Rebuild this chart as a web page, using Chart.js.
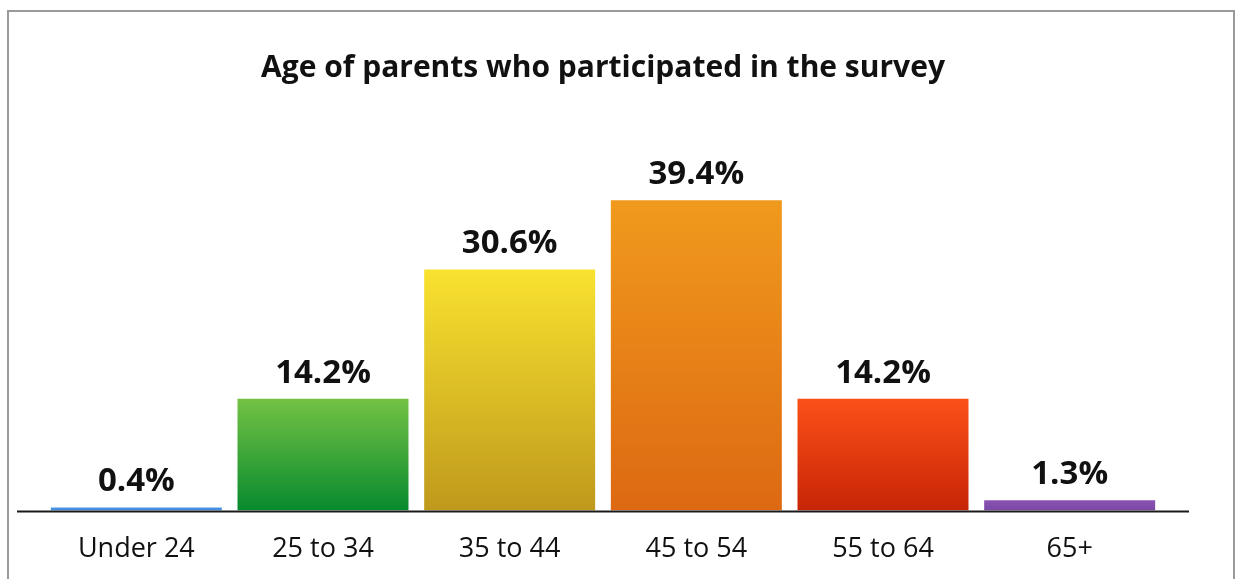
<!DOCTYPE html>
<html>
<head>
<meta charset="utf-8">
<script src="https://cdn.jsdelivr.net/npm/chart.js@4.4.0/dist/chart.umd.min.js"></script>
<style>
  body { margin: 0; background: #fff; overflow: hidden; }
  #wrap { position: absolute; left: 0; top: 0; width: 1235px; height: 589px; }
</style>
</head>
<body>
<div id="wrap"><canvas id="chart1" width="1235" height="589"></canvas></div>
<script>
'use strict'

var titleText = 'Age of parents who participated in the survey';
var ages = ['Under 24', '25 to 34', '35 to 44', '45 to 54', '55 to 64', '65+'];
var percents = [0.4, 14.2, 30.6, 39.4, 14.2, 1.3];
var labels = ['0.4%', '14.2%', '30.6%', '39.4%', '14.2%', '1.3%'];
var topColors = ['#4b97e8', '#74c244', '#f9e22f', '#f09a1d', '#fb5018', '#8b52b2'];
var bottomColors = ['#3a86dc', '#078a2e', '#bf991c', '#dd6912', '#c72506', '#7a48a6'];

var FONT = '"Open Sans", sans-serif';

///////////////////////////////////////////////////////////////////

function barColor(ctx) {
  var chart = ctx.chart;
  var i = ctx.dataIndex;
  if (!chart.chartArea) {
    return topColors[i];
  }
  var y = chart.scales.y;
  var top = y.getPixelForValue(percents[i]);
  var bottom = y.getPixelForValue(0);
  if (bottom - top < 1) {
    return topColors[i];
  }
  var grad = chart.ctx.createLinearGradient(0, top, 0, bottom);
  grad.addColorStop(0, topColors[i]);
  grad.addColorStop(1, bottomColors[i]);
  return grad;
}

///////////////////////////////////////////////////////////////////

var extras = {
  id: 'extras',
  beforeDraw: function (chart) {
    var c = chart.ctx;
    c.save();
    c.strokeStyle = '#9a9a9a';
    c.lineWidth = 2;
    c.strokeRect(8, 11, 1226, 700);
    c.restore();
  },
  afterDatasetsDraw: function (chart) {
    var c = chart.ctx;
    var area = chart.chartArea;
    c.save();
    // axis line, a bit wider than the bars
    c.strokeStyle = '#1a1a1a';
    c.lineWidth = 2;
    c.beginPath();
    c.moveTo(area.left - 26, area.bottom + 1);
    c.lineTo(area.right + 26, area.bottom + 1);
    c.stroke();
    // value labels
    c.fillStyle = '#111';
    c.font = 'bold 33px ' + FONT;
    c.textAlign = 'center';
    c.textBaseline = 'alphabetic';
    var bars = chart.getDatasetMeta(0).data;
    for (var i = 0; i < bars.length; i++) {
      c.fillText(labels[i], bars[i].x, bars[i].y - 16);
    }
    c.restore();
  }
};

///////////////////////////////////////////////////////////////////

function makeChart() {
  var ctx = document.getElementById('chart1').getContext('2d');
  new Chart(ctx, {
    type: 'bar',
    data: {
      labels: ages,
      datasets: [{
        data: percents,
        backgroundColor: barColor,
        borderWidth: 0,
        barPercentage: 0.916,
        categoryPercentage: 1
      }]
    },
    options: {
      responsive: false,
      animation: false,
      layout: {
        padding: { left: 43, right: 72, top: 0, bottom: 0 }
      },
      plugins: {
        legend: { display: false },
        tooltip: { enabled: false },
        title: {
          display: true,
          text: titleText,
          color: '#111',
          font: { family: FONT, size: 30, weight: 'bold' },
          padding: { top: 50, bottom: 70 }
        }
      },
      scales: {
        x: {
          grid: { display: false, drawTicks: false },
          border: { display: false },
          ticks: {
            color: '#111',
            padding: 23,
            font: { family: FONT, size: 27 }
          }
        },
        y: {
          display: false,
          min: 0,
          max: 45
        }
      }
    },
    plugins: [extras]
  });
}

makeChart();
</script>
</body>
</html>
